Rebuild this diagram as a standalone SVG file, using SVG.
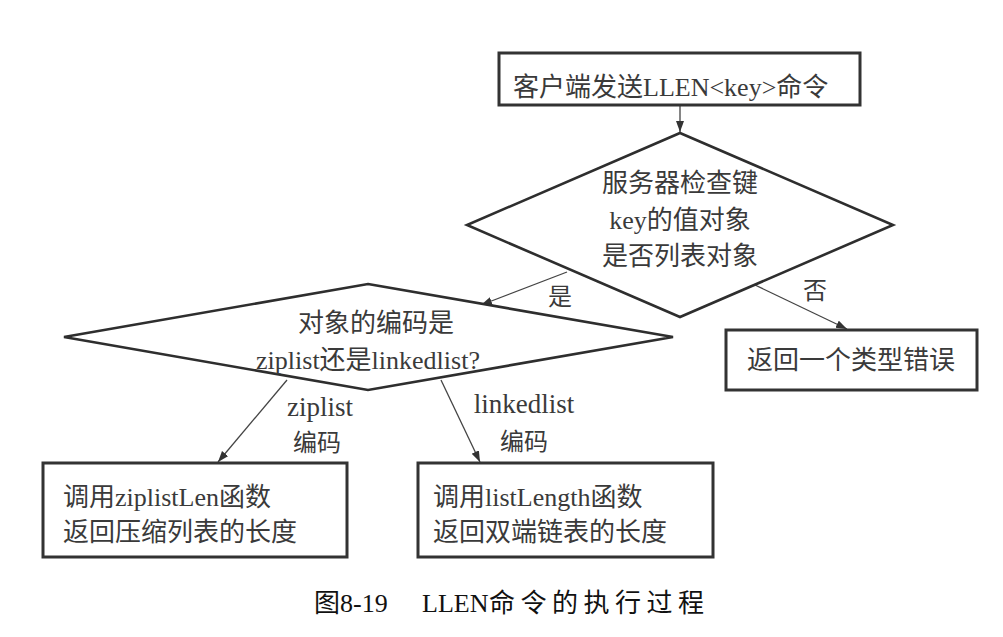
<svg xmlns="http://www.w3.org/2000/svg" width="1003" height="637" viewBox="0 0 1003 637">
<style>
.box{fill:#fff;stroke:#333;stroke-width:3}
.dia{fill:#fff;stroke:#2e2e2e;stroke-width:2.6;stroke-linejoin:miter}
.t{font-family:"Liberation Serif","Noto Sans CJK SC",serif;font-size:26px;fill:#3a3a3a}
.c{text-anchor:middle}
.lbl{font-family:"Liberation Serif","Noto Sans CJK SC",serif;font-size:24px;fill:#3a3a3a;text-anchor:middle}
.lat{font-size:27px}
.cap{font-family:"Liberation Serif","Noto Sans CJK SC",serif;font-size:26px;fill:#111}
.edge{stroke:#444;stroke-width:1.3;fill:none;marker-end:url(#ah)}
</style>
<defs>
<marker id="ah" markerUnits="userSpaceOnUse" markerWidth="12" markerHeight="10" refX="11" refY="4" orient="auto">
<path d="M0,0 L11,4 L0,8 z" fill="#333"/>
</marker>
</defs>
<rect width="1003" height="637" fill="#fff"/>
<g id="connectors">
<line class="edge" x1="680" y1="105" x2="680" y2="132"/>
<line class="edge" x1="567" y1="272" x2="481" y2="305"/>
<line class="edge" x1="755" y1="285" x2="847" y2="329"/>
<line class="edge" x1="287" y1="380" x2="218" y2="462"/>
<line class="edge" x1="441" y1="380" x2="480" y2="462"/>
<text class="lbl" x="560" y="305">是</text>
<text class="lbl" x="815" y="299">否</text>
<text class="lbl lat" x="320" y="416">ziplist</text>
<text class="lbl" x="317" y="451">编码</text>
<text class="lbl lat" x="524" y="413">linkedlist</text>
<text class="lbl" x="524" y="450">编码</text>
</g>
<g id="start">
<rect class="box" x="499" y="53" width="361" height="52"/>
<text class="t" x="513" y="96">客户端发送LLEN&lt;key&gt;命令</text>
</g>
<g id="check">
<polygon class="dia" points="680,133 893,225 680,317 467,225"/>
<text class="t c" x="680" y="192">服务器检查键</text>
<text class="t c" x="680" y="229">key的值对象</text>
<text class="t c" x="680" y="265">是否列表对象</text>
</g>
<g id="error">
<rect class="box" x="726" y="330" width="251" height="60"/>
<text class="t c" x="851" y="369">返回一个类型错误</text>
</g>
<g id="encoding">
<polygon class="dia" points="368,284 673,337 368,390 64,337"/>
<text class="t c" x="376" y="332">对象的编码是</text>
<text class="t c" x="368" y="369">ziplist还是linkedlist?</text>
</g>
<g id="ziplist">
<rect class="box" x="43" y="463" width="304" height="94"/>
<text class="t" x="63" y="506">调用ziplistLen函数</text>
<text class="t" x="63" y="541">返回压缩列表的长度</text>
</g>
<g id="linkedlist">
<rect class="box" x="418" y="463" width="295" height="94"/>
<text class="t" x="433" y="506">调用listLength函数</text>
<text class="t" x="433" y="541">返回双端链表的长度</text>
</g>
<g id="caption">
<text class="cap" y="612"><tspan x="314">图8-19</tspan><tspan x="422">LLEN</tspan><tspan x="489" letter-spacing="5.5">命令的执行过程</tspan></text>
</g>
</svg>
